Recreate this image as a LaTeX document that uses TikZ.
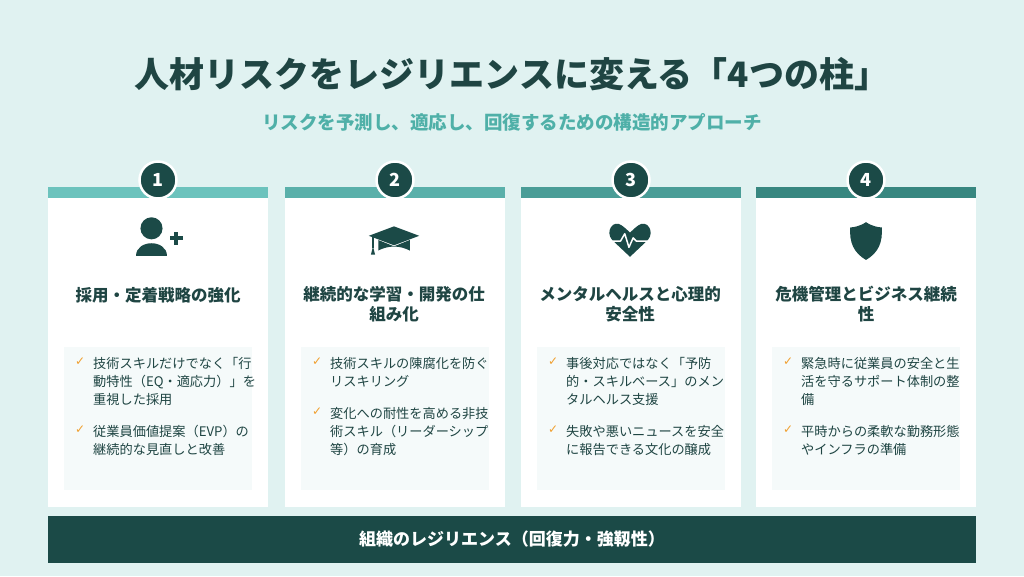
\documentclass[tikz,border=0pt]{standalone}
\usepackage{fontspec}
\setmainfont{Noto Sans CJK JP}
\newfontfamily\sym{DejaVu Sans}
\begin{document}
\begin{tikzpicture}[x=1pt,y=-1pt]
\definecolor{bg}{HTML}{E0F2F1}
\definecolor{dk}{HTML}{1B4A47}
\definecolor{tx}{HTML}{1F4543}
\definecolor{sub}{HTML}{4FB0A8}
\definecolor{panel}{HTML}{F5FAFA}
\definecolor{chk}{HTML}{F0A030}
\definecolor{cA}{HTML}{6CC3BD}
\definecolor{cB}{HTML}{5AB0AA}
\definecolor{cC}{HTML}{4A9D97}
\definecolor{cD}{HTML}{388780}
\tikzset{
 head/.style={font=\fontsize{16.5}{19.5}\selectfont\bfseries,text=tx,align=center},
 bul/.style={font=\fontsize{13.2}{18}\selectfont,text=tx,align=left,anchor=north west,inner sep=0},
 ck/.style={font=\sym\fontsize{12}{12}\selectfont\bfseries,text=chk,anchor=north west,inner sep=0},
 num/.style={circle,fill=dk,draw=white,line width=2.5pt,minimum size=37pt,text=white,font=\fontsize{18}{18}\selectfont\bfseries}
}
\fill[bg] (0,0) rectangle (1024,576);
\node[font=\fontsize{35}{35}\selectfont\bfseries,text=tx] (title) at (512,74) {人材リスクをレジリエンスに変える「4つの柱」};
\node[font=\fontsize{18.5}{18.5}\selectfont\bfseries,text=sub] (sub) at (512,122) {リスクを予測し、適応し、回復するための構造的アプローチ};
\foreach \i/\x/\c in {1/48/cA,2/285/cB,3/521/cC,4/756/cD}{
  \fill[white] (\x,187) rectangle ++(220,320);
  \fill[\c] (\x,187) rectangle ++(220,11);
  \fill[panel] (\x+16,347) rectangle ++(188,143);
  \node[num] (n\i) at (\x+110,180) {\i};
}
% icons
\begin{scope}[shift={(158,240)},scale=1.3]
 \fill[dk] (-5,-9) circle (8.5);
 \fill[dk] (-17,12) .. controls (-17,-1) and (7,-1) .. (7,12) -- cycle;
 \fill[dk] (9,-3) rectangle (19,0); \fill[dk] (12.5,-6.5) rectangle (15.5,3.5);
\end{scope}
\begin{scope}[shift={(394,240)},scale=1.05]
 \fill[dk] (-24,-4) -- (0,-13) -- (24,-4) -- (0,5) -- cycle;
 \fill[dk] (-15,0) -- (0,6) -- (15,0) -- (15,10) .. controls (5,5) and (-5,5) .. (-15,10) -- cycle;
 \draw[dk,line width=1.2pt] (-20,-2.5) -- (-20,8);
 \fill[dk] (-22,14) -- (-20,6) -- (-18,14) -- cycle;
\end{scope}
\begin{scope}[shift={(630,240)},scale=1.05]
 \fill[dk] (0,16) -- (-17,0) .. controls (-24,-8) and (-16,-20) .. (-8,-14) .. controls (-4,-11) and (-2,-9) .. (0,-7) .. controls (2,-9) and (4,-11) .. (8,-14) .. controls (16,-20) and (24,-8) .. (17,0) -- cycle;
 \draw[white,line width=1.5pt,line join=round] (-20,1) -- (-9,1) -- (-5,-6) -- (-1,7) -- (3,-2) -- (6,1) -- (20,1);
\end{scope}
\begin{scope}[shift={(866,240)},scale=1.05]
 \fill[dk] (0,-17) .. controls (6,-13) and (12,-12) .. (15,-12) .. controls (16,2) and (12,12) .. (0,19) .. controls (-12,12) and (-16,2) .. (-15,-12) .. controls (-12,-12) and (-6,-13) .. (0,-17) -- cycle;
\end{scope}
% headings
\node[head] (h1) at (158,295) {採用・定着戦略の強化};
\node[head] (h2) at (394,304) {継続的な学習・開発の仕\\組み化};
\node[head] (h3) at (630,304) {メンタルヘルスと心理的\\安全性};
\node[head] (h4) at (866,304) {危機管理とビジネス継続\\性};
% bullets
\foreach \x/\ya/\ta/\yb/\tb in {
 48/357/{技術スキルだけでなく「行\\動特性（EQ・適応力）」を\\重視した採用}/425/{従業員価値提案（EVP）の\\継続的な見直しと改善},
 285/357/{技術スキルの陳腐化を防ぐ\\リスキリング}/407/{変化への耐性を高める非技\\術スキル（リーダーシップ\\等）の育成},
 521/357/{事後対応ではなく「予防\\的・スキルベース」のメン\\タルヘルス支援}/425/{失敗や悪いニュースを安全\\に報告できる文化の醸成},
 756/357/{緊急時に従業員の安全と生\\活を守るサポート体制の整\\備}/425/{平時からの柔軟な勤務形態\\やインフラの準備}}{
  \node[ck] at (\x+27,\ya+1) {✓};
  \node[bul] at (\x+45,\ya) {\ta};
  \node[ck] at (\x+27,\yb+1) {✓};
  \node[bul] at (\x+45,\yb) {\tb};
}
\fill[dk] (48,516) rectangle (976,563);
\node[font=\fontsize{17}{17}\selectfont\bfseries,text=white] (base) at (512,539.5) {組織のレジリエンス（回復力・強靱性）};
\end{tikzpicture}
\end{document}
